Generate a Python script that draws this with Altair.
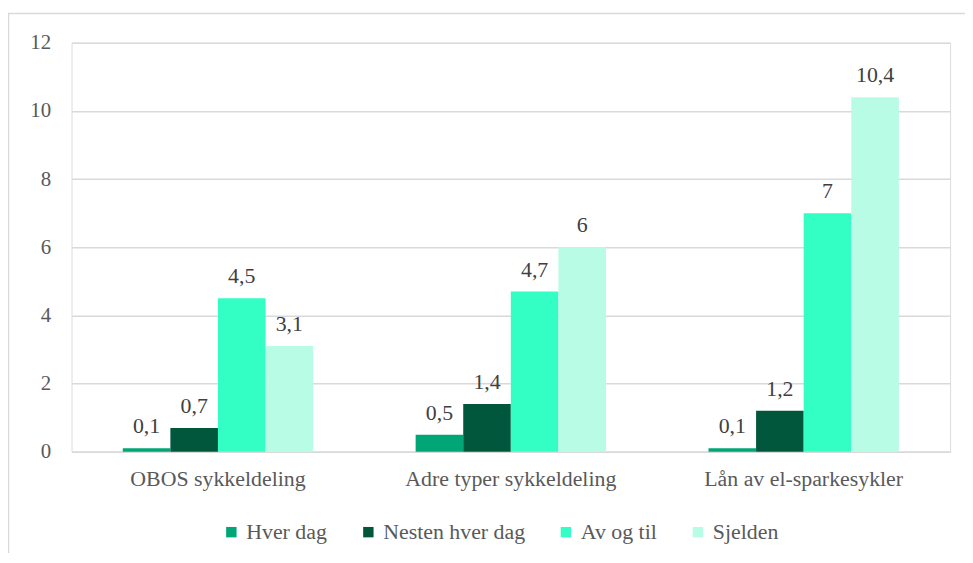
import altair as alt
import pandas as pd

categories = ["OBOS sykkeldeling", "Adre typer sykkeldeling", "Lån av el-sparkesykler"]
series = ["Hver dag", "Nesten hver dag", "Av og til", "Sjelden"]
values = {
    "Hver dag": [0.1, 0.5, 0.1],
    "Nesten hver dag": [0.7, 1.4, 1.2],
    "Av og til": [4.5, 4.7, 7.0],
    "Sjelden": [3.1, 6.0, 10.4],
}
colors = ["#00A676", "#00573B", "#33FFC4", "#B8FCE6"]
y_ticks = [0, 2, 4, 6, 8, 10, 12]

rows = []
for s in series:
    for c, v in zip(categories, values[s]):
        rows.append({"Kategori": c, "Serie": s, "Verdi": v,
                     "Etikett": f"{v:g}".replace(".", ",")})
df = pd.DataFrame(rows)

FONT = "'Liberation Serif', 'Times New Roman', 'DejaVu Serif', serif"

base = alt.Chart(df).encode(
    x=alt.X("Kategori:N", sort=categories, title=None,
            scale=alt.Scale(paddingInner=0.35, paddingOuter=0.175),
            axis=alt.Axis(labelAngle=0, labelFont=FONT, labelFontSize=22,
                          labelColor="#595959", ticks=False, domain=True,
                          domainColor="#D9D9D9", domainWidth=1.5,
                          labelPadding=17, grid=False, labelLimit=0)),
    xOffset=alt.XOffset("Serie:N", sort=series),
    y=alt.Y("Verdi:Q", title=None,
            scale=alt.Scale(domain=[0, 12], nice=False),
            axis=alt.Axis(values=y_ticks, labelFont=FONT, labelFontSize=21,
                          labelColor="#595959", ticks=False, domain=False,
                          gridColor="#D9D9D9", gridWidth=1.5, labelPadding=21)),
)

bars = base.mark_bar().encode(
    color=alt.Color("Serie:N", sort=series,
                    scale=alt.Scale(domain=series, range=colors),
                    legend=alt.Legend(title=None, orient="none",
                                      legendX=150, legendY=482,
                                      direction="horizontal",
                                      symbolType="square", symbolSize=110,
                                      symbolStrokeWidth=0,
                                      labelFont=FONT, labelFontSize=22,
                                      labelColor="#595959",
                                      columnPadding=30, labelOffset=4,
                                      labelLimit=0))
)

labels = base.mark_text(baseline="alphabetic", dy=-15, font=FONT,
                        fontSize=22, color="#404040").encode(text="Etikett:N")

border_df = pd.DataFrame({"a": [0]})
top_border = alt.Chart(border_df).mark_rule(color="#D9D9D9", strokeWidth=1.5).encode(
    x=alt.value(-64), x2=alt.value(920), y=alt.value(-29.5))
left_border = alt.Chart(border_df).mark_rule(color="#D9D9D9", strokeWidth=1.5).encode(
    x=alt.value(-63.5), y=alt.value(-29.5), y2=alt.value(520))

chart = alt.layer(bars, labels, top_border, left_border).properties(
    width=885, height=412,
    autosize=alt.AutoSizeParams(type="none"),
    padding={"left": 64, "top": 33, "right": 15, "bottom": 100},
).configure_view(stroke=None).configure(background="white")

chart.save("out.html", embed_options={"renderer": "svg", "actions": False})
